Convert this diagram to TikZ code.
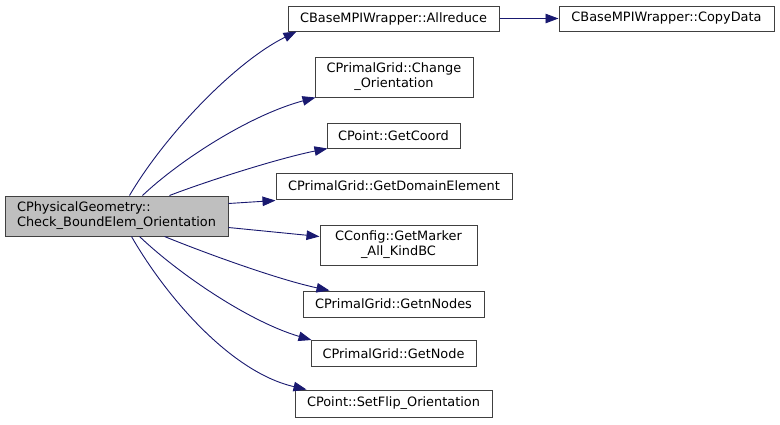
\documentclass[tikz,border=0pt]{standalone}
\usepackage{fontspec}
\setmainfont{DejaVu Sans}
\usetikzlibrary{arrows.meta}
\definecolor{edgecol}{HTML}{191970}
\definecolor{bordercol}{HTML}{404040}
\definecolor{mainfill}{HTML}{BFBFBF}
\begin{document}
\begin{tikzpicture}[x=1pt,y=-1pt,
  fn/.style={draw=bordercol,line width=1pt,fill=white,rectangle,inner sep=0pt,
    font=\fontsize{12.9}{15}\selectfont,align=center,text=black},
  mainfn/.style={fn,fill=mainfill,align=left},
  call/.style={draw=edgecol,line width=0.9pt,-{Triangle[length=13pt,width=9.5pt]},fill=none},
]
\path[use as bounding box,fill=white] (0,0) rectangle (780,424);

\node[mainfn,minimum width=223pt,minimum height=40pt] (main) at (116.5,216)
  {CPhysicalGeometry::\\Check\_BoundElem\_Orientation};
\node[fn,minimum width=211pt,minimum height=25pt] (allr) at (393.5,18.5) {CBaseMPIWrapper::Allreduce};
\node[fn,minimum width=215pt,minimum height=25pt] (copy) at (666.5,18.5) {CBaseMPIWrapper::CopyData};
\node[fn,minimum width=158pt,minimum height=40pt] (chg) at (394,77) {CPrimalGrid::Change\\\_Orientation};
\node[fn,minimum width=133pt,minimum height=25pt] (coord) at (393.5,135.5) {CPoint::GetCoord};
\node[fn,minimum width=236pt,minimum height=26pt] (dom) at (394,186) {CPrimalGrid::GetDomainElement};
\node[fn,minimum width=157pt,minimum height=40pt] (mark) at (398.5,245) {CConfig::GetMarker\\\_All\_KindBC};
\node[fn,minimum width=181pt,minimum height=26pt] (nn) at (393.5,304) {CPrimalGrid::GetnNodes};
\node[fn,minimum width=165pt,minimum height=26pt] (gn) at (393.5,353.5) {CPrimalGrid::GetNode};
\node[fn,minimum width=197pt,minimum height=27pt] (flip) at (393.5,403.5) {CPoint::SetFlip\_Orientation};

\draw[call] ([xshift=125pt]main.north west) .. controls (165,135) and (235,62) .. ([xshift=9pt]allr.south west);
\draw[call] ([xshift=138pt]main.north west) .. controls (180,160) and (250,115) .. ([xshift=1pt]chg.south west);
\draw[call] ([xshift=165pt]main.north west) .. controls (210,180) and (280,158) .. ([xshift=1pt]coord.south west);
\draw[call] ([yshift=-8pt]main.north east) -- ([yshift=-1pt]dom.south west);
\draw[call] ([yshift=9pt]main.south east) -- ([yshift=-12pt]mark.north west);
\draw[call] ([xshift=160pt]main.south west) .. controls (210,255) and (280,280) .. ([xshift=27pt]nn.north west);
\draw[call] ([xshift=135pt]main.south west) .. controls (180,275) and (250,322) .. ([xshift=1pt]gn.north west);
\draw[call] ([xshift=127pt]main.south west) .. controls (165,295) and (230,372) .. ([xshift=12pt]flip.north west);
\draw[call] (allr.east) -- (copy.west);
\end{tikzpicture}
\end{document}
